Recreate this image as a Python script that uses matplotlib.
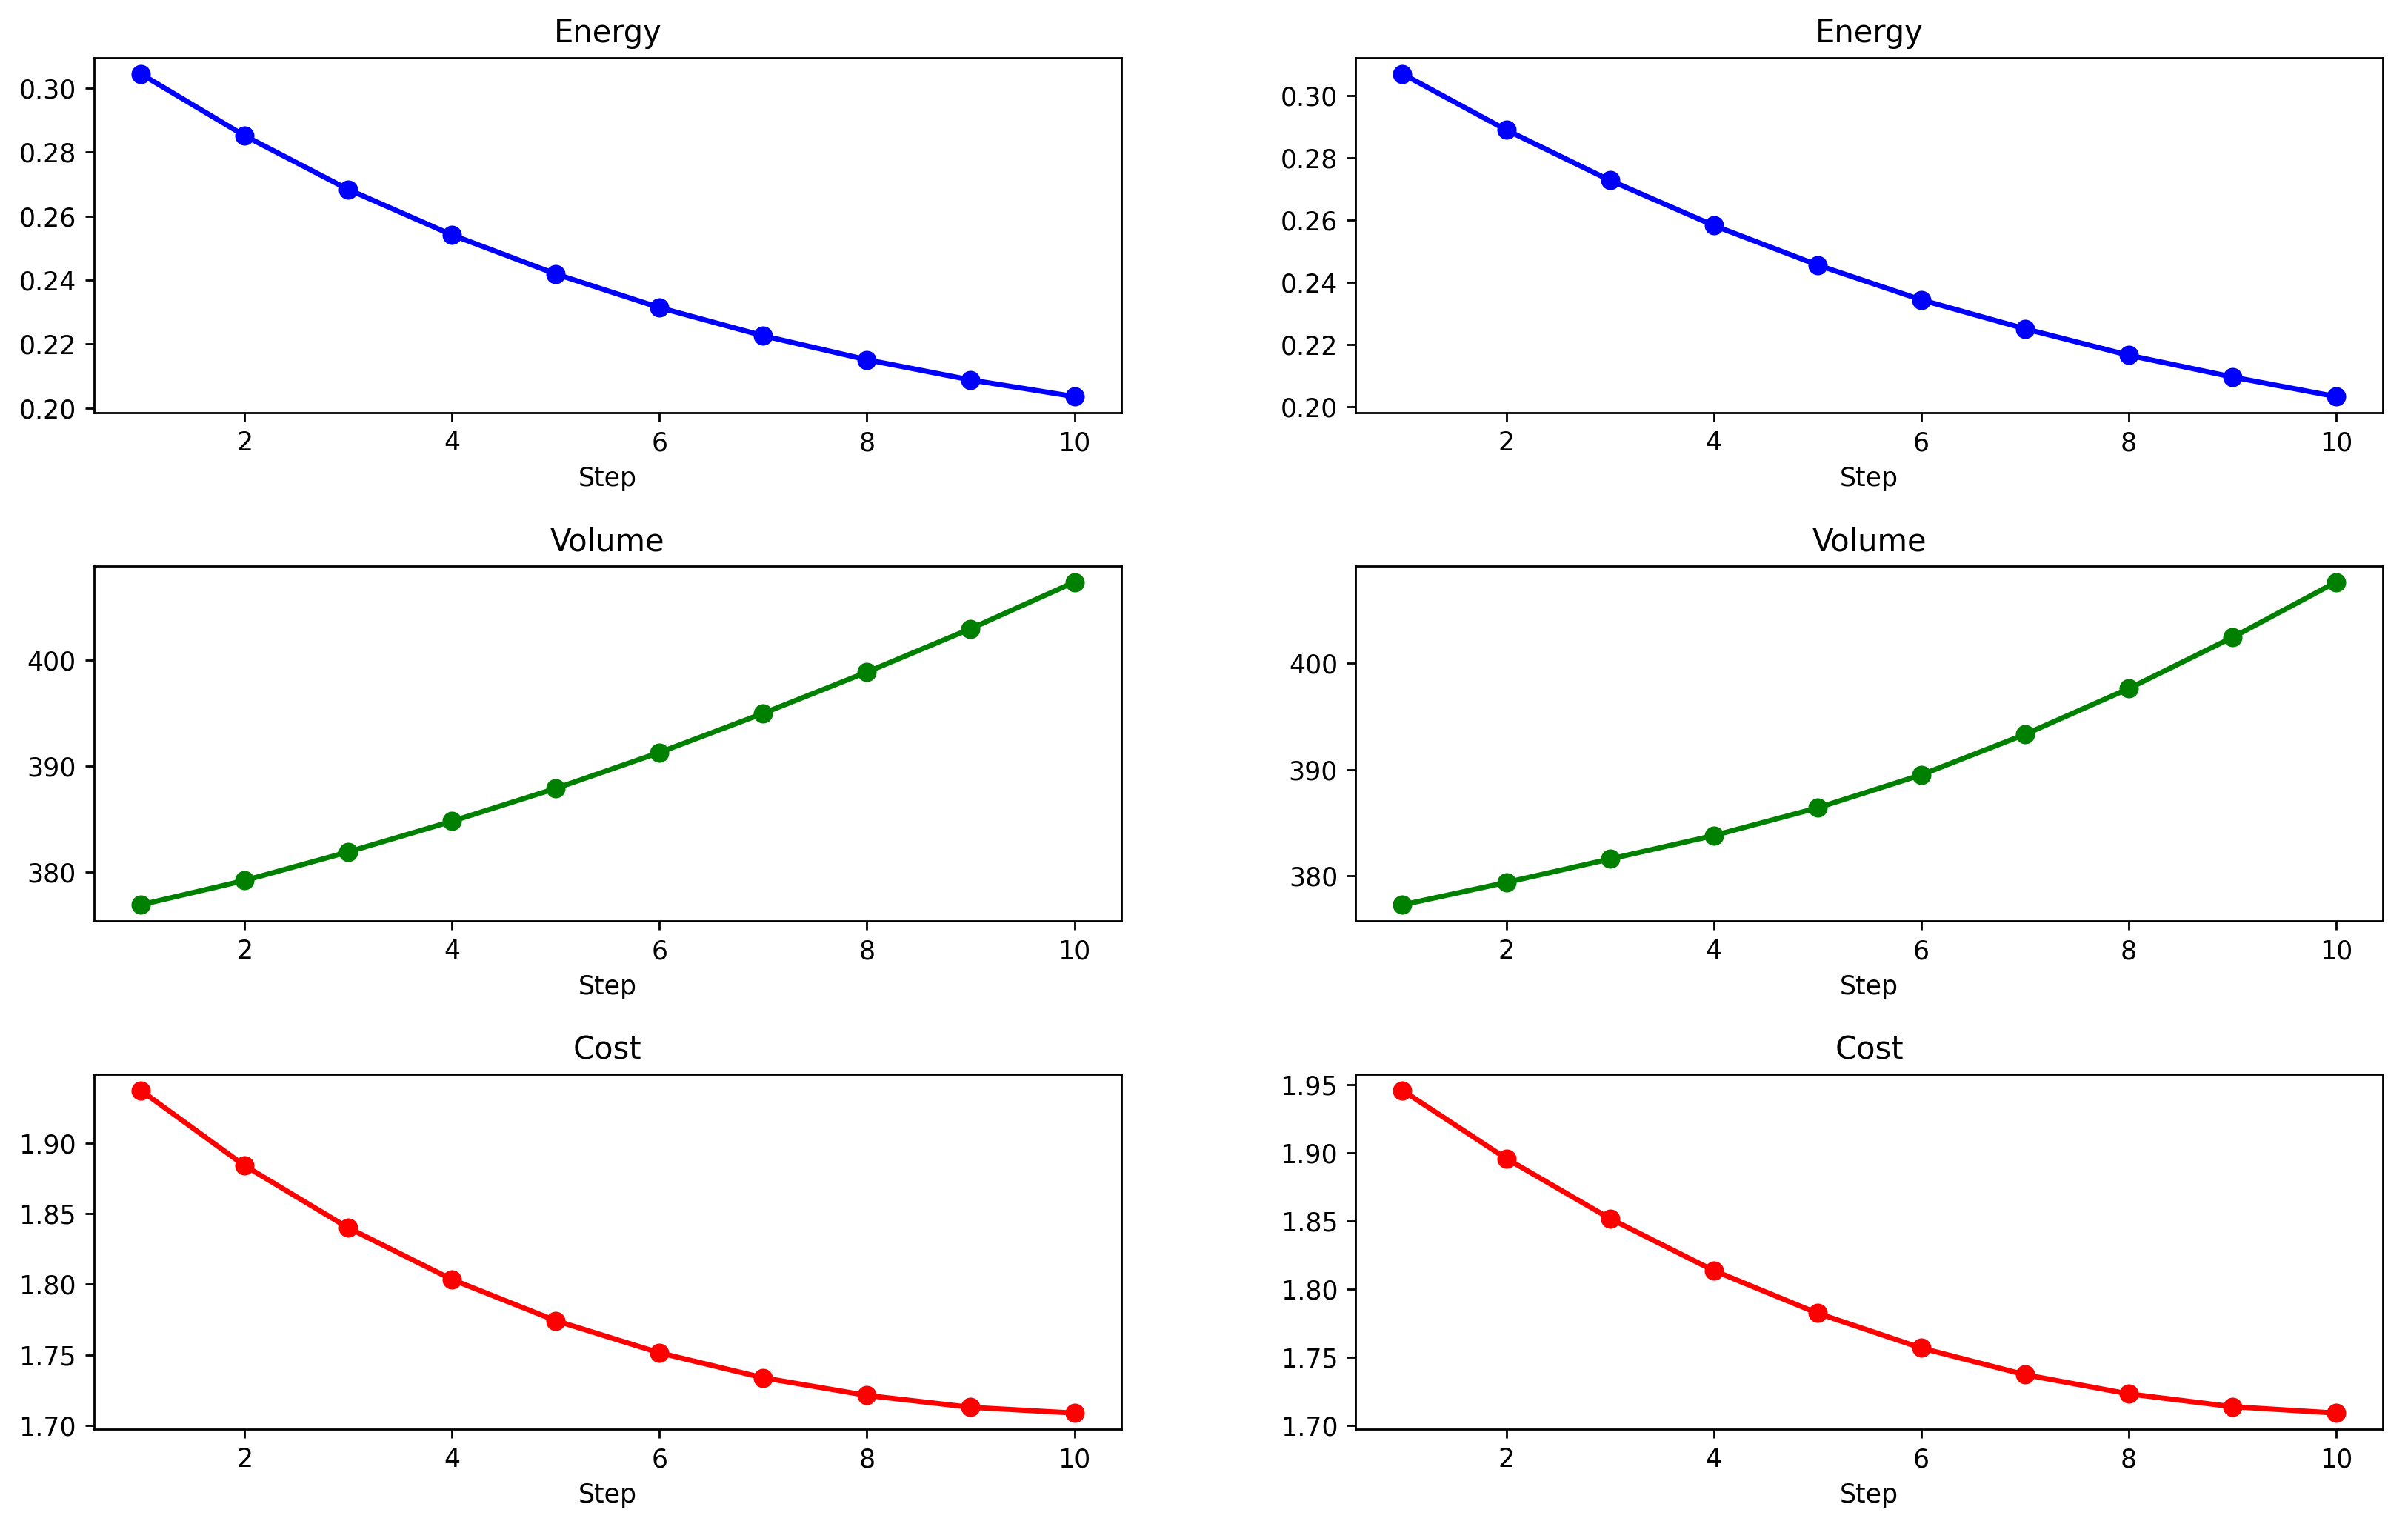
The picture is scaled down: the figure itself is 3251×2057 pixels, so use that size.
import numpy as np
import matplotlib
matplotlib.use("Agg")
import matplotlib.pyplot as plt

steps = np.arange(1, 11)

# left column run
energy_a = [0.3044, 0.2851, 0.2683, 0.2541, 0.2419, 0.2314, 0.2226, 0.2151, 0.2088, 0.2036]
volume_a = [376.9, 379.2, 381.9, 384.8, 387.9, 391.3, 395.0, 398.9, 403.0, 407.4]
cost_a = [1.9374, 1.8841, 1.8400, 1.8034, 1.7742, 1.7514, 1.7337, 1.7212, 1.7128, 1.7087]

# right column run
energy_b = [0.3070, 0.2890, 0.2728, 0.2583, 0.2456, 0.2344, 0.2251, 0.2166, 0.2096, 0.2033]
volume_b = [377.3, 379.4, 381.6, 383.8, 386.4, 389.5, 393.3, 397.6, 402.4, 407.6]
cost_b = [1.9460, 1.8960, 1.8519, 1.8137, 1.7824, 1.7568, 1.7372, 1.7231, 1.7137, 1.7090]

titles = ["Energy", "Volume", "Cost"]
colors = ["blue", "green", "red"]
runs = [[energy_a, volume_a, cost_a], [energy_b, volume_b, cost_b]]

dpi = 250
fig, axes = plt.subplots(3, 2, figsize=(3251 / dpi, 2057 / dpi))
fig.subplots_adjust(left=0.0391, right=0.9895, top=0.9621, bottom=0.0622,
                    wspace=0.2286, hspace=0.432)

for col, run in enumerate(runs):
    for row, vals in enumerate(run):
        ax = axes[row, col]
        ax.plot(steps, vals, color=colors[row], marker='o', linewidth=2, markersize=6.5)
        ax.set_title(titles[row])
        ax.set_xlabel('Step')

fig.savefig("out.png", dpi=dpi)
